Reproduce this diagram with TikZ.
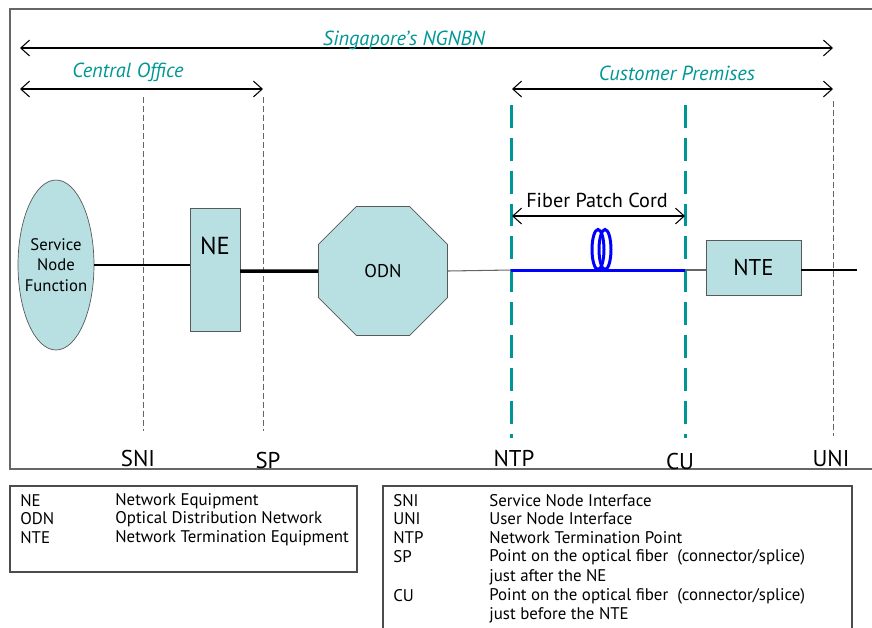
\documentclass[tikz,border=0pt]{standalone}
\usepackage{fontspec}
\setmainfont{PT Sans}
\usetikzlibrary{shapes.geometric, arrows.meta}
\definecolor{boxfill}{RGB}{184,224,226}
\definecolor{ngteal}{RGB}{0,150,150}
\definecolor{fibreblue}{RGB}{0,0,255}

\tikzset{
	element/.style = {draw = black!65, fill = boxfill, inner sep = 0pt},
	span/.style = {{Straight Barb[length=5pt, width=9pt]}-{Straight Barb[length=5pt, width=9pt]}, line width = 0.6pt},
	spanlabel/.style = {font = \fontsize{11.6}{13}\selectfont\itshape, text = ngteal},
	refline/.style = {draw = black!60, dash pattern = on 3.4pt off 1.7pt, line width = 0.5pt},
	fibreline/.style = {draw = ngteal, dash pattern = on 13pt off 5.7pt, line width = 1.7pt},
	pointlabel/.style = {font = \fontsize{13}{15}\selectfont},
	legend/.style = {font = \fontsize{9.6}{11}\selectfont, anchor = west, inner sep = 0pt}
}

\begin{document}
\begin{tikzpicture}[x = 0.02cm, y = -0.02cm]
						\useasboundingbox (0,0) rectangle (872,627);
						\draw [black!60, line width = 0.8pt] (880,9) -- (10,9) -- (10,469) -- (880,469);

						% reference points
						\begin{scope}
							\coordinate (sni top) at (143,97);
							\coordinate (sni bottom) at (143,431);
							\coordinate (sp top) at (263,97);
							\coordinate (sp bottom) at (263,431);
							\coordinate (uni top) at (833,101);
							\coordinate (uni bottom) at (833,436);
							\coordinate (ntp top) at (511,105);
							\coordinate (ntp bottom) at (511,438);
							\coordinate (cu top) at (685,105);
							\coordinate (cu bottom) at (685,438);

							\draw [refline] (sni top) -- (sni bottom);
							\draw [refline] (sp top) -- (sp bottom);
							\draw [refline] (uni top) -- (uni bottom);
							\draw [fibreline] (ntp top) -- (ntp bottom);
							\draw [fibreline] (cu top) -- (cu bottom);

							\node [pointlabel] (sni) at (138,458) {SNI};
							\node [pointlabel] (sp) at (268,460) {SP};
							\node [pointlabel] (ntp) at (514,458) {NTP};
							\node [pointlabel] (cu) at (680,461) {CU};
							\node [pointlabel] (uni) at (831,458) {UNI};
						\end{scope}

						% spans
						\begin{scope}
							\coordinate (net left) at (20,48);
							\coordinate (net right) at (833,48);
							\coordinate (co left) at (20,89);
							\coordinate (co right) at (263,89);
							\coordinate (cp left) at (512,89);
							\coordinate (cp right) at (833,89);
							\coordinate (cord left) at (512,216);
							\coordinate (cord right) at (685,216);

							\draw [span] (net left) -- (net right);
							\draw [span] (co left) -- (co right);
							\draw [span] (cp left) -- (cp right);
							\draw [span] (cord left) -- (cord right);

							\node [spanlabel] (ngnbn) at (404,40) {Singapore’s NGNBN};
							\node [spanlabel] (co) at (128,72) {Central Office};
							\node [spanlabel] (cp) at (677,73) {Customer Premises};
							\node [font = \fontsize{11.5}{13}\selectfont] (cord) at (597,200) {Fiber Patch Cord};
						\end{scope}

						\begin{scope}
							\node [element, ellipse, inner xsep = -5pt, minimum width = 1.52cm, minimum height = 3.4cm, align = center,
								font = \fontsize{9.5}{11.5}\selectfont] (snf) at (56,265) {Service\\Node\\Function};
							\node [element, minimum width = 1cm, minimum height = 2.46cm, font = \fontsize{14}{16}\selectfont,
								text depth = 0pt, anchor = north] (ne) at (215,208) {\raisebox{0.95cm}{NE}};
							\node [element, regular polygon, regular polygon sides = 8, minimum size = 2.79cm,
								font = \fontsize{10.5}{12}\selectfont] (odn) at (383,271) {ODN};
							\node [element, minimum width = 1.9cm, minimum height = 1.1cm,
								font = \fontsize{13}{15}\selectfont] (nte) at (753.5,267.5) {NTE};

							\coordinate (ne out) at (240,271);
							\coordinate (ntp link) at (511,270);
							\coordinate (cu link) at (685,270);
							\coordinate (end) at (857,270);

							\draw [line width = 0.6pt] (snf.east) -- (snf.east -| ne.west);
							\draw [line width = 2pt] (ne out) -- (odn.west);
							\draw [black!60, line width = 0.6pt] (odn.east) -- (ntp link);
							\draw [black!60, line width = 0.6pt] (cu link) -- (cu link -| nte.west);
							\draw [line width = 0.6pt] (nte.east |- end) -- (end);
							\draw [fibreblue, line width = 1.7pt] (ntp link) -- (cu link);
							\draw [fibreblue, line width = 1.7pt] (598,249.5) ellipse (6 and 20);
							\draw [fibreblue, line width = 1.7pt] (605,249.5) ellipse (6 and 20);
						\end{scope}

						% legends
						\begin{scope}
							\draw [black!70, line width = 0.6pt] (10,486) rectangle (357,572);
							\draw [black!70, line width = 0.6pt] (383,640) -- (383,486) -- (852,486) -- (852,640);

							\node [legend] (k ne) at (20,501) {NE};
							\node [legend] (k odn) at (20,519) {ODN};
							\node [legend] (k nte) at (20,538) {NTE};
							\node [legend] at (115,501) {Network Equipment};
							\node [legend] at (115,519) {Optical Distribution Network};
							\node [legend] at (115,538) {Network Termination Equipment};

							\node [legend] (k sni) at (393,501) {SNI};
							\node [legend] (k uni) at (393,519) {UNI};
							\node [legend] (k ntp) at (393,538) {NTP};
							\node [legend] (k sp) at (393,557) {SP};
							\node [legend] (k cu) at (393,596) {CU};
							\node [legend] at (489,501) {Service Node Interface};
							\node [legend] at (489,519) {User Node Interface};
							\node [legend] at (489,538) {Network Termination Point};
							\node [legend] at (489,557) {Point on the optical fiber\ \ (connector/splice)};
							\node [legend] at (489,577) {just after the NE};
							\node [legend] at (489,596) {Point on the optical fiber\ \ (connector/splice)};
							\node [legend] at (489,615) {just before the NTE};
						\end{scope}
					\end{tikzpicture}
\end{document}
